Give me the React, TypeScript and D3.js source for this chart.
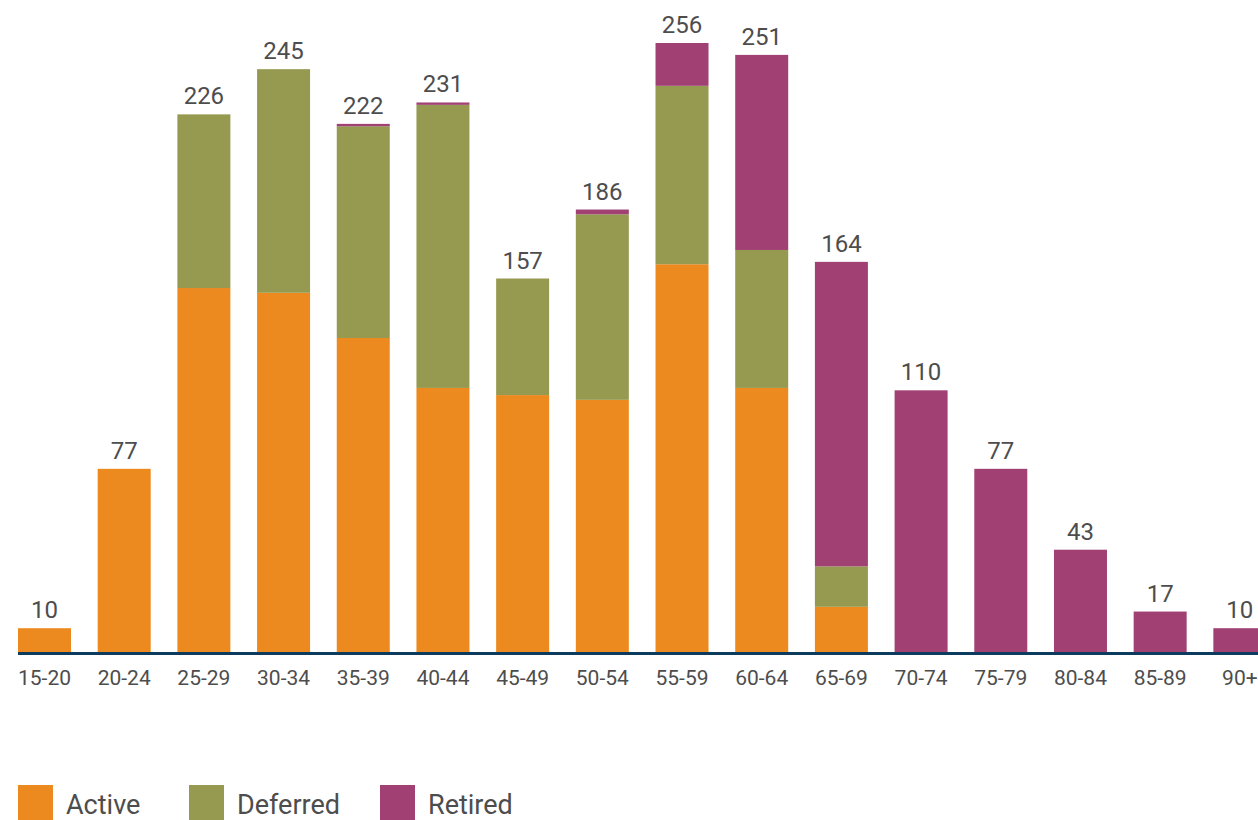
import React from "react";
import * as d3 from "d3";

const categories = ["15-20","20-24","25-29","30-34","35-39","40-44","45-49","50-54","55-59","60-64","65-69","70-74","75-79","80-84","85-89","90+"];
const active = [10,77,153,151,132,111,108,106,163,111,19,0,0,0,0,0];
const deferred = [0,0,73,94,89,119,49,78,75,58,17,0,0,0,0,0];
const retired = [0,0,0,0,1,1,0,2,18,82,128,110,77,43,17,10];
const seriesNames = ["Active","Deferred","Retired"];
const seriesColors = ["#ED8A1F","#959A50","#A04073"];

const W = 1258;
const H = 820;
const FONT = "Roboto, 'Open Sans', sans-serif";
const TEXT = "#4d4d4d";

export default function App() {
  const rows = categories.map((c, i) => ({ cat: c, Active: active[i], Deferred: deferred[i], Retired: retired[i] }));
  const stack = d3.stack<any>().keys(seriesNames)(rows);
  const totals = categories.map((_, i) => active[i] + deferred[i] + retired[i]);

  const x = d3.scaleBand<string>().domain(categories).range([18, 1266.35]).paddingInner(0.335).paddingOuter(0).align(0);
  const y = d3.scaleLinear().domain([0, 256]).range([652, 43]);
  const bw = x.bandwidth();

  const legendX = [18, 189, 380];

  return (
    <svg width={W} height={H} style={{ position: "fixed", left: 0, top: 0, overflow: "hidden", background: "#fff" }} fontFamily={FONT}>
      {stack.map((layer, si) => (
        <g key={seriesNames[si]} fill={seriesColors[si]}>
          {layer.map((d, i) => {
            const h = y(d[0]) - y(d[1]);
            if (h <= 0) return null;
            return <rect key={i} x={x(categories[i])} y={y(d[1])} width={bw} height={h} />;
          })}
        </g>
      ))}
      <line x1={18} x2={W} y1={653.5} y2={653.5} stroke="#0c3b5e" strokeWidth={3} />
      {categories.map((c, i) => (
        <text key={"v" + c} x={(x(c) as number) + bw / 2} y={y(totals[i]) - 10} textAnchor="middle" fontSize={24} fill={TEXT}>
          {totals[i]}
        </text>
      ))}
      {categories.map((c) => (
        <text key={"c" + c} x={(x(c) as number) + bw / 2} y={685} textAnchor="middle" fontSize={21} fill={TEXT}>
          {c}
        </text>
      ))}
      {seriesNames.map((s, i) => (
        <g key={"l" + s}>
          <rect x={legendX[i]} y={785} width={35} height={35} fill={seriesColors[i]} />
          <text x={legendX[i] + 48} y={814} fontSize={27} fill={TEXT}>{s}</text>
        </g>
      ))}
    </svg>
  );
}
